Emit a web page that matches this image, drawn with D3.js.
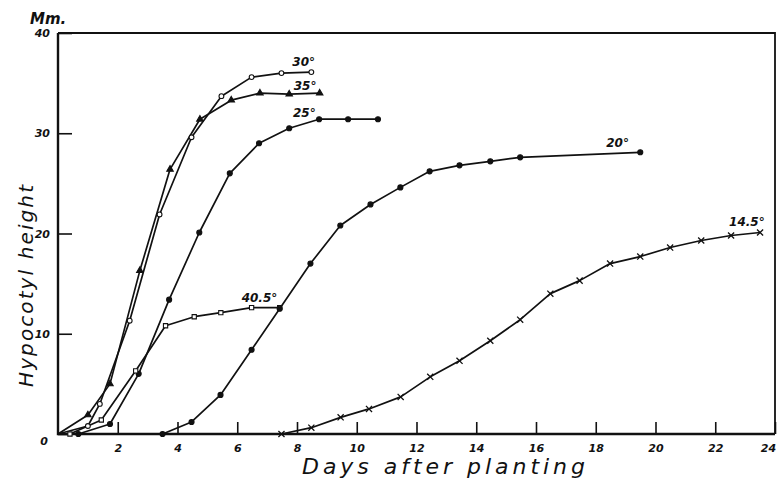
<!DOCTYPE html>
<html>
<head>
<meta charset="utf-8">
<script src="https://cdn.jsdelivr.net/npm/d3@7/dist/d3.min.js"></script>
<style>
  html, body { margin: 0; padding: 0; background: #fff; }
  svg { display: block; }
  .tick text { font-family: "DejaVu Sans", sans-serif; font-style: italic; font-weight: bold; font-size: 11px; fill: #111; }
</style>
</head>
<body>
<script>
// 图表尺寸
var w = 777;
var h = 481;

// 温度标签
var temps = ["30°", "35°", "25°", "40.5°", "20°", "14.5°"];

// 每条曲线：播种后天数 与 下胚轴高度 (mm)
var days30 = [0, 1.0, 1.4, 2.4, 3.4, 4.47, 5.47, 6.48, 7.48, 8.48];
var height30 = [0, 0.8, 3.0, 11.3, 21.9, 29.6, 33.7, 35.6, 36.0, 36.1];

var days35 = [0, 1.0, 1.74, 2.74, 3.75, 4.75, 5.8, 6.76, 7.74, 8.76];
var height35 = [0, 1.9, 5.0, 16.3, 26.4, 31.4, 33.3, 34.0, 33.9, 34.0];

var days25 = [0, 0.68, 1.74, 2.7, 3.72, 4.73, 5.75, 6.73, 7.74, 8.74, 9.71, 10.71];
var height25 = [0, 0, 1.0, 6.0, 13.4, 20.1, 26.0, 29.0, 30.5, 31.4, 31.4, 31.4];

var days405 = [0, 0.4, 1.45, 2.6, 3.6, 4.56, 5.45, 6.48, 7.42];
var height405 = [0, 0, 1.4, 6.3, 10.8, 11.7, 12.1, 12.6, 12.6];

var days20 = [3.5, 4.47, 5.44, 6.48, 7.42, 8.45, 9.45, 10.46, 11.46, 12.44, 13.44, 14.47, 15.47, 19.49];
var height20 = [0, 1.2, 3.9, 8.4, 12.5, 17.0, 20.8, 22.9, 24.6, 26.2, 26.8, 27.2, 27.6, 28.1];

var days145 = [7.48, 8.48, 9.46, 10.41, 11.47, 12.46, 13.44, 14.47, 15.47, 16.48, 17.46, 18.48, 19.49, 20.49, 21.53, 22.53, 23.5];
var height145 = [0, 0.63, 1.66, 2.5, 3.7, 5.7, 7.3, 9.3, 11.4, 14.0, 15.3, 17.0, 17.7, 18.6, 19.3, 19.8, 20.1];

// 坐标轴刻度
var xTicks = [2, 4, 6, 8, 10, 12, 14, 16, 18, 20, 22, 24];
var yTicks = [0, 10, 20, 30, 40];

var allDays = [days30, days35, days25, days405, days20, days145];
var allHeights = [height30, height35, height25, height405, height20, height145];

// 标记样式和标签偏移（相对最后一个点）
var markers = ["openCircle", "triangle", "dot", "openSquare", "dot", "cross"];
var labelOffsets = [[-19, -6], [-26, -3], [-85, -2], [-38, -6], [-34, -5], [-31, -6]];

var series = temps.map(function (t, i) {
  return {
    name: t,
    marker: markers[i],
    offset: labelOffsets[i],
    points: allDays[i].map(function (d, j) { return { day: d, value: allHeights[i][j] }; })
  };
});

var xScale = d3.scaleLinear().domain([0, 24]).range([58, 775]);
var yScale = d3.scaleLinear().domain([0, 40]).range([434, 33]);

var svg = d3.select("body").append("svg").attr("width", w).attr("height", h);
svg.append("rect").attr("width", w).attr("height", h).attr("fill", "#fff");

// 坐标轴（刻度朝内）
var xAxis = d3.axisBottom(xScale).tickValues(xTicks).tickSize(-12).tickPadding(10).tickFormat(d3.format("d"));
var yAxis = d3.axisLeft(yScale).tickValues(yTicks).tickSize(-14).tickPadding(8).tickFormat(d3.format("d"));

var gx = svg.append("g").attr("transform", "translate(0," + yScale(0) + ")").call(xAxis);
var gy = svg.append("g").attr("transform", "translate(" + xScale(0) + ",0)").call(yAxis);
gx.select(".domain").remove();
gy.select(".domain").remove();
gx.selectAll(".tick line").attr("stroke", "#111").attr("stroke-width", 1.6);
gy.selectAll(".tick line").attr("stroke", "#111").attr("stroke-width", 1.6);
gy.selectAll(".tick text").filter(function (d) { return d === 0; }).attr("dy", "0.95em").attr("x", -10);
// 最右侧的 24 在边缘，稍微左移以免被裁掉
gx.selectAll(".tick text").filter(function (d) { return d === 24; }).attr("x", -7);

// 边框
svg.append("path")
  .attr("d", "M" + xScale(0) + "," + yScale(40) + "H" + xScale(24) + "V" + yScale(0))
  .attr("fill", "none").attr("stroke", "#111").attr("stroke-width", 1.8);
svg.append("path")
  .attr("d", "M" + xScale(0) + "," + yScale(40) + "V" + yScale(0) + "H" + xScale(24))
  .attr("fill", "none").attr("stroke", "#111").attr("stroke-width", 2.4);

// 曲线
var line = d3.line()
  .x(function (d) { return xScale(d.day); })
  .y(function (d) { return yScale(d.value); });

svg.selectAll(".curve")
  .data(series)
  .enter()
  .append("path")
  .attr("class", "curve")
  .attr("d", function (s) { return line(s.points); })
  .attr("fill", "none")
  .attr("stroke", "#111")
  .attr("stroke-width", 1.7)
  .attr("stroke-linejoin", "round");

// 数据点标记
var symbolFor = {
  openCircle: d3.symbol().type(d3.symbolCircle).size(18),
  dot: d3.symbol().type(d3.symbolCircle).size(20),
  triangle: d3.symbol().type(d3.symbolTriangle).size(18),
  openSquare: d3.symbol().type(d3.symbolSquare).size(18),
  cross: d3.symbol().type(d3.symbolTimes).size(26)
};

series.forEach(function (s) {
  var open = s.marker === "openCircle" || s.marker === "openSquare";
  svg.append("g")
    .selectAll("path")
    .data(s.points.filter(function (p, i) { return i > 0 || p.day > 0; }))
    .enter()
    .append("path")
    .attr("transform", function (p) { return "translate(" + xScale(p.day) + "," + yScale(p.value) + ")"; })
    .attr("d", symbolFor[s.marker]())
    .attr("fill", open ? "#fff" : "#111")
    .attr("stroke", "#111")
    .attr("stroke-width", s.marker === "cross" ? 1.3 : 1.1);
});

// 温度标签
svg.selectAll(".label")
  .data(series)
  .enter()
  .append("text")
  .attr("class", "label")
  .attr("x", function (s) { return xScale(s.points[s.points.length - 1].day) + s.offset[0]; })
  .attr("y", function (s) { return yScale(s.points[s.points.length - 1].value) + s.offset[1]; })
  .text(function (s) { return s.name; })
  .attr("font-family", "DejaVu Sans, sans-serif")
  .attr("font-style", "italic")
  .attr("font-weight", "bold")
  .attr("font-size", "12px")
  .attr("fill", "#111");

// 轴标题
svg.append("text")
  .attr("x", 302).attr("y", 474)
  .attr("textLength", 283).attr("lengthAdjust", "spacing")
  .attr("font-family", "DejaVu Sans, sans-serif")
  .attr("font-style", "italic")
  .attr("font-size", "22px")
  .attr("fill", "#111")
  .text("Days after planting");

svg.append("text")
  .attr("transform", "translate(33,387) rotate(-90)")
  .attr("textLength", 202).attr("lengthAdjust", "spacing")
  .attr("font-family", "DejaVu Sans, sans-serif")
  .attr("font-style", "italic")
  .attr("font-size", "20px")
  .attr("fill", "#111")
  .text("Hypocotyl height");

svg.append("text")
  .attr("x", 30).attr("y", 24)
  .attr("font-family", "DejaVu Sans, sans-serif")
  .attr("font-style", "italic")
  .attr("font-weight", "bold")
  .attr("font-size", "15px")
  .attr("fill", "#111")
  .text("Mm.")
</script>
</body>
</html>
